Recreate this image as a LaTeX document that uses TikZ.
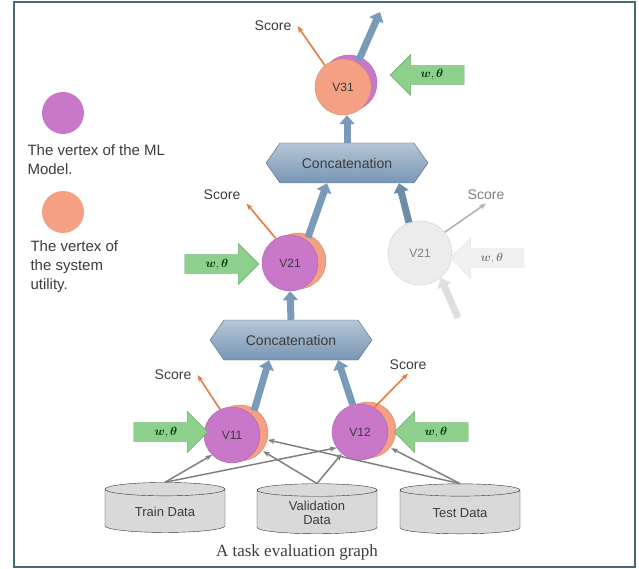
\documentclass[tikz,border=0pt]{standalone}
\usepackage{amsmath, bm}
\usepackage{fontspec}
\setmainfont{Liberation Sans}
\newfontfamily\captionfont{Liberation Serif}
\usetikzlibrary{positioning, shapes.arrows, shapes.symbols, shapes.geometric, shadows, arrows.meta}

\definecolor{mlpurple}{RGB}{201,120,201}
\definecolor{syssalmon}{RGB}{245,160,130}
\definecolor{flowblue}{RGB}{122,154,186}
\definecolor{catblue}{RGB}{120,150,180}
\definecolor{catedge}{RGB}{78,108,138}
\definecolor{paramgreen}{RGB}{140,208,140}
\definecolor{scoreorange}{RGB}{232,122,62}
\definecolor{framecol}{RGB}{70,105,120}
\definecolor{textgray}{RGB}{60,60,60}

\tikzset{
x=1pt, y=-1pt, % coordinates read like pixels
vertex/.style={circle, minimum size=56pt, inner sep=0pt, font=\fontsize{12}{14}\selectfont, text=textgray},
mlvertex/.style={vertex, fill=mlpurple, draw=mlpurple!85!black,
  copy shadow={shadow xshift=8pt, shadow yshift=2pt, fill=syssalmon, draw=syssalmon!85!black}},
sysvertex/.style={vertex, fill=syssalmon, draw=syssalmon!85!black,
  copy shadow={shadow xshift=6pt, shadow yshift=4pt, fill=mlpurple, draw=mlpurple!85!black}},
ghost/.style={vertex, minimum size=64pt, fill=gray!15, draw=gray!40, densely dotted, thick, text=gray},
concat/.style={signal, signal to=east and west, signal pointer angle=110, draw=catedge,
  top color=catblue!55!white, bottom color=catblue, minimum width=162pt, minimum height=40pt,
  font=\fontsize{14}{16}\selectfont, text=textgray},
datastore/.style={cylinder, shape border rotate=90, aspect=0.2, draw=gray!40!black, fill=gray!30,
  minimum width=120pt, minimum height=50pt, align=center, font=\fontsize{13}{14}\selectfont, text=textgray},
param/.style={single arrow, single arrow head extend=11pt, minimum height=74pt, inner ysep=4pt,
  fill=paramgreen, draw=paramgreen!80!black, font=\fontsize{12}{14}\selectfont, text=green!20!black},
param ghost/.style={param, fill=gray!12, draw=gray!40, densely dotted, text=gray},
score/.style={font=\fontsize{14}{16}\selectfont, text=textgray, inner xsep=6pt},
scorearrow/.style={scoreorange, line width=1.6pt, -{Stealth[length=7pt]}},
flow/.style={flowblue, line width=7pt, -{Triangle[width=15pt,length=9pt]}},
feed/.style={gray, line width=1.5pt, -{Stealth[length=7pt]}},
legend dot/.style={circle, minimum size=42pt, inner sep=0pt},
legend text/.style={align=left, anchor=north west, font=\fontsize{15}{19}\selectfont, text=textgray},
}

\begin{document}
\begin{tikzpicture}
    \useasboundingbox (0,0) rectangle (639,569);
    \draw[framecol, line width=2pt] (14,2) rectangle (635,567);

    % legend
    \node[legend dot, fill=mlpurple] (lgml) at (63,113) {};
    \node[legend text] (lgmltxt) at (24,141) {The vertex of the ML\\Model.};
    \node[legend dot, fill=syssalmon] (lgsys) at (63,212) {};
    \node[legend text] (lgsystxt) at (27,237) {The vertex of\\the system\\utility.};

    % graph
    \node[mlvertex] (v11) at (232,435) {V11};
    \node[mlvertex] (v12) at (360,432) {V12};
    \node[concat] (catlow) at (291,340) {Concatenation};
    \node[mlvertex] (v21) at (290,263) {V21};
    \node[ghost] (v21b) at (420,253) {V21};
    \node[concat] (cattop) at (347,163) {Concatenation};
    \node[sysvertex] (v31) at (343,87) {V31};

    \node[datastore] (train) at (165,512) {Train Data};
    \node[datastore] (valid) at (317,513) {Validation\\Data};
    \node[datastore] (test) at (460,513) {Test Data};

    \node[param] (p11) at (166,432) {$\bm{w},\bm{\theta}$};
    \node[param, shape border rotate=180] (p12) at (436,432) {$\bm{w},\bm{\theta}$};
    \node[param] (p21) at (217,264) {$\bm{w},\bm{\theta}$};
    \node[param, shape border rotate=180] (p31) at (432,75) {$\bm{w},\bm{\theta}$};
    \node[param ghost, shape border rotate=180] (p21b) at (492,258) {$\bm{w},\bm{\theta}$};

    \node[score] (s11) at (173,375) {Score};
    \node[score] (s12) at (408,365) {Score};
    \node[score] (s21) at (222,195) {Score};
    \node[score, text=gray] (s21b) at (486,195) {Score};
    \node[score] (s31) at (273,26) {Score};

    \coordinate (out) at (380,12);
    \coordinate (ghostin) at (458,318);

    \draw[flow] ([xshift=8pt]v11.60) -- ([xshift=-22pt]catlow.south);
    \draw[flow] (v12.105) -- ([xshift=47pt]catlow.south);
    \draw[flow] (catlow.north) -- (v21.south);
    \draw[flow] ([xshift=6pt]v21.65) -- ([xshift=-20pt]cattop.south);
    \draw[flow, flowblue!90!black] (v21b.110) -- ([xshift=52pt]cattop.south);
    \draw[flow] (cattop.north) -- ([xshift=4pt]v31.south);
    \draw[flow] ([xshift=6pt]v31.70) -- (out);
    \draw[flow, gray!25] (ghostin) -- (v21b.-50);

    \draw[scorearrow] (v31.130) -- (s31.east);
    \draw[scorearrow] (v21.120) -- (s21.south east);
    \draw[scorearrow, gray!60] (v21b.40) -- (s21b.south);
    \draw[scorearrow] (v11.115) -- (s11.east);
    \draw[scorearrow] (v12.60) -- (s12.south);

    \path[feed]
    (train.north) edge (v11.225)
    (train.north) edge (v12.214)
    (valid.north) edge ([xshift=8pt]v11.-35)
    (valid.north) edge (v12.230)
    (test.north) edge ([xshift=8pt]v11.-10)
    (test.north) edge ([xshift=8pt]v12.-35);

    \node[font=\captionfont\fontsize{17}{19}\selectfont, text=textgray] (caption) at (297,552) {A task evaluation graph};
\end{tikzpicture}
\end{document}
